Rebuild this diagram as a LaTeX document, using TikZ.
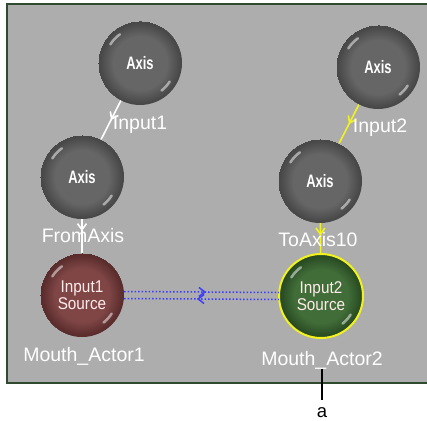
\documentclass[tikz,border=0pt]{standalone}
\usepackage{fontspec}
\setmainfont{Liberation Sans}
\usetikzlibrary{arrows.meta,decorations.markings,calc}
\definecolor{panel}{HTML}{ADADAD}
\definecolor{frame}{HTML}{2F4A2F}
\definecolor{axc}{HTML}{666666}
\definecolor{axd}{HTML}{484848}
\definecolor{rdc}{HTML}{804646}
\definecolor{rdd}{HTML}{5A2C2C}
\definecolor{gnc}{HTML}{416D38}
\definecolor{gnd}{HTML}{284A22}
\definecolor{ylw}{HTML}{F2F21E}
\definecolor{blu}{HTML}{3C3CFF}
\pgfdeclareradialshading{axshade}{\pgfpoint{0bp}{0bp}}{color(0bp)=(axc); color(16bp)=(axc); color(24bp)=(axd); color(25bp)=(axd)}
\pgfdeclareradialshading{rdshade}{\pgfpoint{0bp}{0bp}}{color(0bp)=(rdc); color(16bp)=(rdc); color(24bp)=(rdd); color(25bp)=(rdd)}
\pgfdeclareradialshading{gnshade}{\pgfpoint{0bp}{0bp}}{color(0bp)=(gnc); color(16bp)=(gnc); color(24bp)=(gnd); color(25bp)=(gnd)}
\tikzset{
  sphere/.style={circle, minimum size=84pt, inner sep=0pt, text=white},
  axisball/.style={sphere, shading=axshade, font=\fontsize{18}{18}\selectfont\bfseries},
  srcball/.style={sphere, align=center, font=\fontsize{17}{18}\selectfont, text=white!92!red},
  lbl/.style={anchor=base, text=white, font=\fontsize{19.5}{20}\selectfont, inner sep=0pt},
  wline/.style={draw=white, line width=1.6pt},
  yline/.style={draw=ylw, line width=1.6pt},
  bline/.style={draw=blu, line width=1.5pt, dash pattern=on 1.5pt off 2pt},
  midarrow/.style={postaction={decorate}, decoration={markings,
     mark=at position #1 with {\arrow{Straight Barb[length=6pt,width=9pt]}}}},
  midarrowrev/.style={postaction={decorate}, decoration={markings,
     mark=at position #1 with {\arrowreversed{Straight Barb[length=6pt,width=9pt]}}}},
  hl/.style={draw=white, line width=2.5pt, line cap=round, opacity=0.5}
}
\newcommand{\sphl}[1]{%
  \draw[hl] ($(#1)+(125:35)$) arc[start angle=125, end angle=148, radius=35];
  \draw[hl] ($(#1)+(-52:35)$) arc[start angle=-52, end angle=-32, radius=35];}
\begin{document}
\begin{tikzpicture}[x=1pt,y=1pt]
\useasboundingbox (0,0) rectangle (427,420);
\fill[white] (0,0) rectangle (427,420);
\fill[panel] (6.5,37) rectangle (445,415.5);
\draw[frame, line width=2pt] (445,37) -- (6.5,37) -- (6.5,415.5) -- (445,415.5);

% spheres
\node[axisball] (ax1) at (140,357) {\scalebox{0.72}[1]{Axis}};
\node[axisball] (ax2) at (378,353) {\scalebox{0.72}[1]{Axis}};
\node[axisball] (ax3) at (82,243) {\scalebox{0.72}[1]{Axis}};
\node[axisball] (ax4) at (320,239) {\scalebox{0.72}[1]{Axis}};
\node[srcball, shading=rdshade] (src1) at (82,125) {\scalebox{0.9}[1]{Input1}\\[-1pt]\scalebox{0.9}[1]{Source}};
\node[srcball, shading=gnshade] (src2) at (321,124) {\scalebox{0.9}[1]{Input2}\\[-1pt]\scalebox{0.9}[1]{Source}};
\draw[ylw, line width=2pt] (src2) circle[radius=42];
\foreach \n in {ax1,ax2,ax3,ax4,src1,src2} {\sphl{\n}}

% connectors
\draw[wline, midarrow=0.5] (ax1) -- (ax3);
\draw[yline, midarrow=0.5] (ax2) -- (ax4);
\draw[wline, midarrow=0.35] (ax3) -- (src1);
\draw[yline, midarrow=0.4] (ax4) -- (src2);
\draw[bline, midarrow=0.53] ([yshift=3.5pt]src1.east) -- ([yshift=3.5pt]src2.west);
\draw[bline, midarrowrev=0.47] ([yshift=-3.5pt]src1.east) -- ([yshift=-3.5pt]src2.west);

% labels
\node[lbl] (lin1) at (140,290) {Input1};
\node[lbl] (lin2) at (380,287) {Input2};
\node[lbl] (lfrom) at (83,177) {FromAxis};
\node[lbl] (lto) at (318,173) {ToAxis10};
\node[lbl] (lm1) at (84,59) {Mouth\_Actor1};
\node[lbl] (lm2) at (322,55) {Mouth\_Actor2};

% callout
\coordinate (tickend) at (322,20);
\draw[black, line width=1.4pt] (lm2.south) -- (tickend);
\node[anchor=base, inner sep=0pt, font=\fontsize{18.5}{19}\selectfont] (lbla) at (322,3) {a};
\end{tikzpicture}
\end{document}
